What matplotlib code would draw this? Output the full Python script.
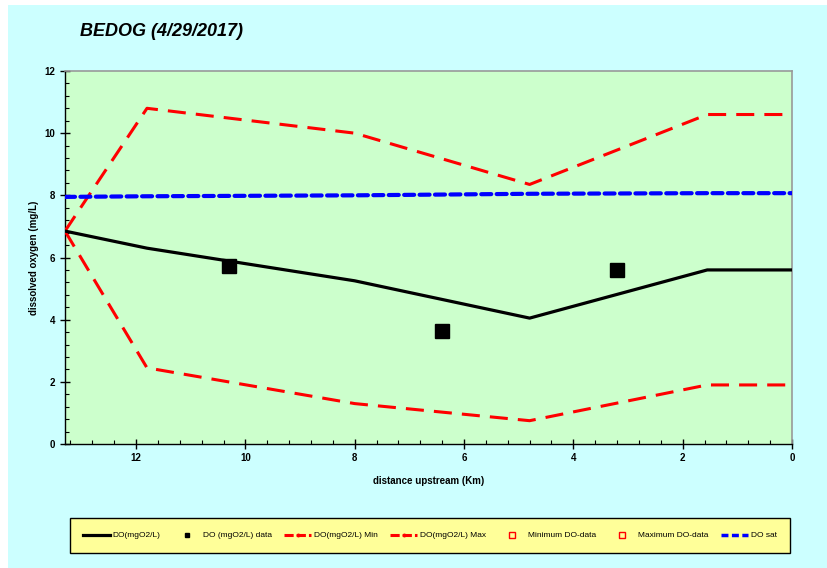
import matplotlib
matplotlib.use('Agg')
import matplotlib.pyplot as plt
from matplotlib.ticker import MultipleLocator
from matplotlib.patches import Rectangle
from matplotlib.lines import Line2D

plt.rcParams['font.family'] = ['Liberation Sans', 'DejaVu Sans']

# Model nodes (distance upstream, km)
km = [13.3, 11.8, 8.0, 4.8, 1.55, 0.0]
do_model = [6.85, 6.30, 5.25, 4.05, 5.60, 5.60]
do_min = [6.85, 2.45, 1.30, 0.75, 1.90, 1.90]
do_max = [6.85, 10.80, 10.00, 8.35, 10.60, 10.60]
do_sat = [7.95, 7.97, 8.00, 8.05, 8.07, 8.07]

# Measured DO
data_km = [10.3, 6.4, 3.2]
data_do = [5.72, 3.62, 5.60]

fig = plt.figure(figsize=(8.28, 5.68), dpi=100)
fig.patch.set_facecolor('#CCFFFF')
# thin white strips along the top and left edge
fig.patches.append(Rectangle((0, 0), 8 / 828, 1, transform=fig.transFigure,
                             facecolor='white', edgecolor='none', zorder=-10))
fig.patches.append(Rectangle((0, 1 - 5 / 568), 1, 5 / 568, transform=fig.transFigure,
                             facecolor='white', edgecolor='none', zorder=-10))

ax = fig.add_axes([65 / 828, 1 - 444 / 568, (792 - 65) / 828, (444 - 71) / 568])
ax.set_facecolor('#CCFFCC')

ax.plot(km, do_model, color='black', lw=2.3, zorder=4)
ax.plot(data_km, data_do, 's', color='black', ms=10, zorder=5)
ax.plot(km, do_min, color='red', lw=2.2, dashes=(5.9, 3.3), zorder=3)
ax.plot(km, do_max, color='red', lw=2.2, dashes=(5.9, 3.3), zorder=3)
ax.plot(km, do_sat, color='blue', lw=3.0, dashes=(2.4, 1.3),
        dash_capstyle='round', zorder=3)

ax.set_xlim(13.3, 0)
ax.set_ylim(0, 12)
ax.xaxis.set_major_locator(MultipleLocator(2))
ax.xaxis.set_minor_locator(MultipleLocator(0.4))
ax.yaxis.set_major_locator(MultipleLocator(2))
ax.yaxis.set_minor_locator(MultipleLocator(0.4))
ax.tick_params(which='major', direction='inout', length=7, width=1, labelsize=7)
ax.tick_params(which='minor', direction='in', length=3, width=0.8)
ax.tick_params(axis='x', pad=3)
for lab in ax.get_xticklabels() + ax.get_yticklabels():
    lab.set_fontweight('bold')

for side in ['top', 'right']:
    ax.spines[side].set_color('#999999')
    ax.spines[side].set_linewidth(1.2)
for side in ['left', 'bottom']:
    ax.spines[side].set_color('black')
    ax.spines[side].set_linewidth(1.0)

ax.set_xlabel('distance upstream (Km)', fontsize=7, fontweight='bold', labelpad=9)
ax.set_ylabel('dissolved oxygen (mg/L)', fontsize=7, fontweight='bold', labelpad=4)

fig.text(80 / 828, 1 - 32 / 568, 'BEDOG (4/29/2017)', fontsize=13, fontweight='bold',
         fontstyle='italic', va='center', ha='left')

# legend entries
handles = [
    Line2D([], [], color='black', lw=2.3),
    Line2D([], [], ls='none', marker='s', color='black', ms=3.5),
    Line2D([], [], color='red', lw=2.2, dashes=(3, 1), marker='o', ms=1.8),
    Line2D([], [], color='red', lw=2.2, dashes=(3, 1), marker='o', ms=1.8),
    Line2D([], [], ls='none', marker='s', mfc='none', mec='red', ms=4),
    Line2D([], [], ls='none', marker='s', mfc='none', mec='red', ms=4),
    Line2D([], [], color='blue', lw=2.5, dashes=(2, 1)),
]
labels = ['DO(mgO2/L)', 'DO (mgO2/L) data', 'DO(mgO2/L) Min', 'DO(mgO2/L) Max',
          'Minimum DO-data', 'Maximum DO-data', 'DO sat']
leg = fig.legend(handles, labels, loc='center', ncol=7, mode='expand',
                 bbox_to_anchor=(70 / 828, 1 - 559 / 568, (790 - 70) / 828, 47 / 568),
                 fontsize=6, frameon=True, fancybox=False, borderaxespad=0,
                 handlelength=3.2, handletextpad=0.3, columnspacing=0.8,
                 borderpad=1.6, numpoints=1)
leg.get_frame().set_facecolor('#FFFF99')
leg.get_frame().set_edgecolor('black')
leg.get_frame().set_linewidth(1.0)
leg.get_frame().set_alpha(1)

fig.savefig('out.png', dpi=100)
